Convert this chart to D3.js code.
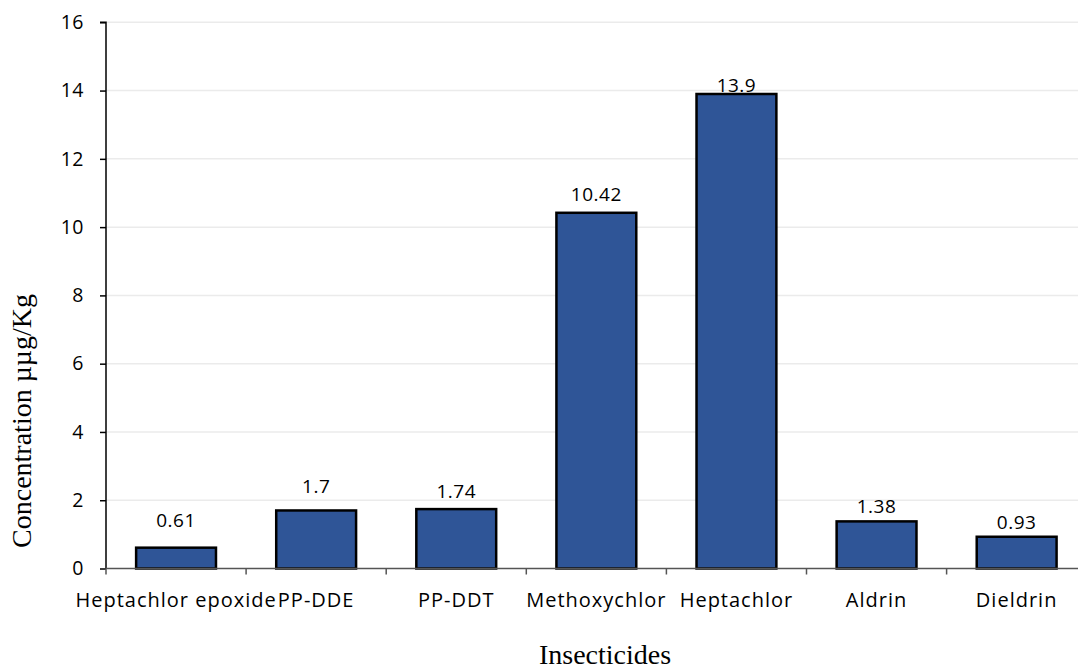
<!DOCTYPE html>
<html>
<head>
<meta charset="utf-8">
<script src="https://cdn.jsdelivr.net/npm/d3@7"></script>
<style>
  html, body { margin: 0; padding: 0; background: #fff; }
  svg { display: block; }
</style>
</head>
<body>
<svg id="chart" width="1078" height="671"></svg>
<script>
// Insecticide residue concentrations (µg/Kg)
const categories = ["Heptachlor epoxide", "PP-DDE", "PP-DDT", "Methoxychlor", "Heptachlor", "Aldrin", "Dieldrin"];
const values = [0.61, 1.7, 1.74, 10.42, 13.9, 1.38, 0.93];
const yTicks = [0, 2, 4, 6, 8, 10, 12, 14, 16];

// Vertical gap (px) between each bar top and the centre of its value label
const labelLift = [28, 24.5, 18, 19, 9, 15.5, 15];

const sansFont = "'Open Sans', Lato, sans-serif";
const serifFont = "'Liberation Serif', 'Times New Roman', serif";

const svg = d3.select("#chart");
const margin = { left: 106, top: 22.3, bottom: 568.5 };
const plotRight = 1086.7;

const x = d3.scaleBand()
  .domain(categories)
  .range([margin.left, plotRight])
  .paddingInner(0.43)
  .paddingOuter(0.215);

const y = d3.scaleLinear()
  .domain([0, 16])
  .range([margin.bottom, margin.top]);

// Gridlines
svg.append("g")
  .selectAll("line")
  .data(yTicks.filter(d => d > 0))
  .join("line")
  .attr("x1", margin.left)
  .attr("x2", plotRight)
  .attr("y1", d => y(d))
  .attr("y2", d => y(d))
  .attr("stroke", "#ebebeb")
  .attr("stroke-width", 1.5);

// Bars
svg.append("g")
  .selectAll("rect")
  .data(values)
  .join("rect")
  .attr("x", (d, i) => x(categories[i]))
  .attr("y", d => y(d))
  .attr("width", x.bandwidth())
  .attr("height", d => y(0) - y(d))
  .attr("fill", "#2f5597")
  .attr("stroke", "#000")
  .attr("stroke-width", 2.5);

// Value labels
svg.append("g")
  .selectAll("text")
  .data(values)
  .join("text")
  .attr("x", (d, i) => x(categories[i]) + x.bandwidth() / 2)
  .attr("y", (d, i) => y(d) - labelLift[i])
  .attr("dy", "0.36em")
  .attr("text-anchor", "middle")
  .attr("font-family", sansFont)
  .attr("font-size", 19)
  .attr("letter-spacing", 0.5)
  .attr("fill", "#000")
  .text(d => d);

// Y axis
const yAxis = d3.axisLeft(y).tickValues(yTicks).tickSize(6).tickPadding(16);
const gy = svg.append("g")
  .attr("transform", `translate(${margin.left},0)`)
  .call(yAxis);
gy.select(".domain").attr("stroke", "#000").attr("stroke-width", 1.5)
  .attr("d", `M-6,${y(16)}H0V${y(0)}`);
gy.selectAll(".tick line").attr("stroke", "#000").attr("stroke-width", 1.5);
gy.selectAll(".tick text")
  .attr("font-family", sansFont)
  .attr("font-size", 19.5)
  .attr("letter-spacing", 0.5)
  .attr("fill", "#000");

// X axis with ticks at category boundaries
const step = x.step();
const boundaries = d3.range(categories.length + 1).map(i => margin.left + i * step);
const gx = svg.append("g");
gx.append("line")
  .attr("x1", margin.left).attr("x2", plotRight)
  .attr("y1", y(0)).attr("y2", y(0))
  .attr("stroke", "#555").attr("stroke-width", 1.5);
gx.selectAll("line.tick")
  .data(boundaries)
  .join("line")
  .attr("class", "tick")
  .attr("x1", d => d).attr("x2", d => d)
  .attr("y1", y(0)).attr("y2", y(0) + 6)
  .attr("stroke", "#555").attr("stroke-width", 1.5);
gx.selectAll("text")
  .data(categories)
  .join("text")
  .attr("x", d => x(d) + x.bandwidth() / 2)
  .attr("y", 607)
  .attr("text-anchor", "middle")
  .attr("font-family", sansFont)
  .attr("font-size", 20)
  .attr("letter-spacing", 1)
  .attr("fill", "#000")
  .text(d => d);

// Axis titles
svg.append("text")
  .attr("x", 605)
  .attr("y", 664)
  .attr("text-anchor", "middle")
  .attr("font-family", serifFont)
  .attr("font-size", 28)
  .attr("fill", "#000")
  .text("Insecticides");

svg.append("text")
  .attr("transform", "translate(31,421) rotate(-90)")
  .attr("text-anchor", "middle")
  .attr("font-family", serifFont)
  .attr("font-size", 28)
  .attr("fill", "#000")
  .text("Concentration µµg/Kg");
</script>
</body>
</html>
